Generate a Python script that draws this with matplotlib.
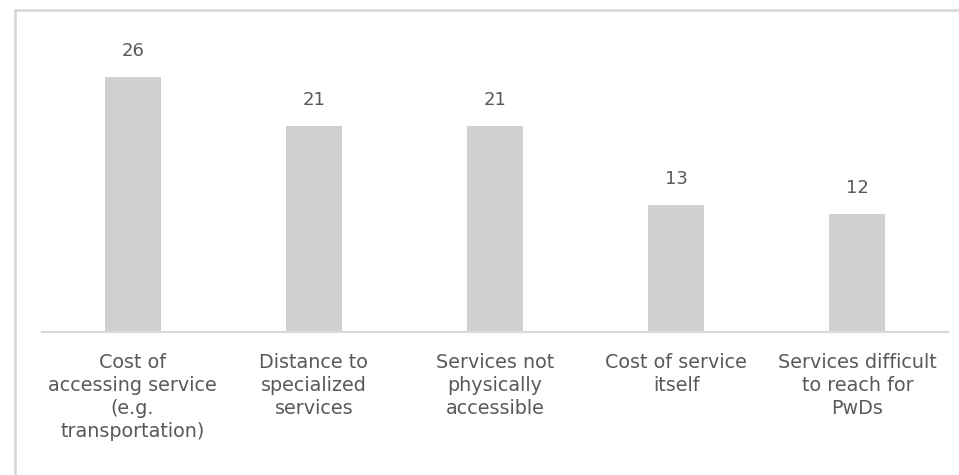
import matplotlib.pyplot as plt
from matplotlib.lines import Line2D

categories = [
    "Cost of\naccessing service\n(e.g.\ntransportation)",
    "Distance to\nspecialized\nservices",
    "Services not\nphysically\naccessible",
    "Cost of service\nitself",
    "Services difficult\nto reach for\nPwDs",
]
values = [26, 21, 21, 13, 12]

plt.rcParams['font.family'] = ['DejaVu Sans']
text_color = '#595959'
bar_color = '#d0d0d0'
line_color = '#d9d9d9'

fig = plt.figure(figsize=(9.59, 4.75), dpi=100)
ax = fig.add_axes([0.0438, 0.301, 0.9447, 0.6147])

x = range(len(categories))
bars = ax.bar(x, values, width=0.31, color=bar_color, zorder=2)
for b, v in zip(bars, values):
    ax.text(b.get_x() + b.get_width() / 2, v + 1.75, str(v), ha='center', va='bottom',
            fontsize=13, color=text_color)

ax.set_xlim(-0.5, len(categories) - 0.5)
ax.set_ylim(0, 29.8)
ax.set_xticks(list(x))
ax.set_xticklabels(categories, fontsize=13.8, color=text_color, linespacing=1.28)
ax.tick_params(axis='x', length=0, pad=15)
ax.set_yticks([])
for side in ['top', 'right', 'left']:
    ax.spines[side].set_visible(False)
ax.spines['bottom'].set_color(line_color)
ax.spines['bottom'].set_linewidth(1.5)

# light frame along the top and left edges
fig.add_artist(Line2D([15 / 959, 15 / 959], [0, 1 - 10 / 475], transform=fig.transFigure,
                      color=line_color, lw=2))
fig.add_artist(Line2D([15 / 959, 958 / 959], [1 - 10 / 475, 1 - 10 / 475], transform=fig.transFigure,
                      color=line_color, lw=2))

fig.savefig('out.png', dpi=100)
